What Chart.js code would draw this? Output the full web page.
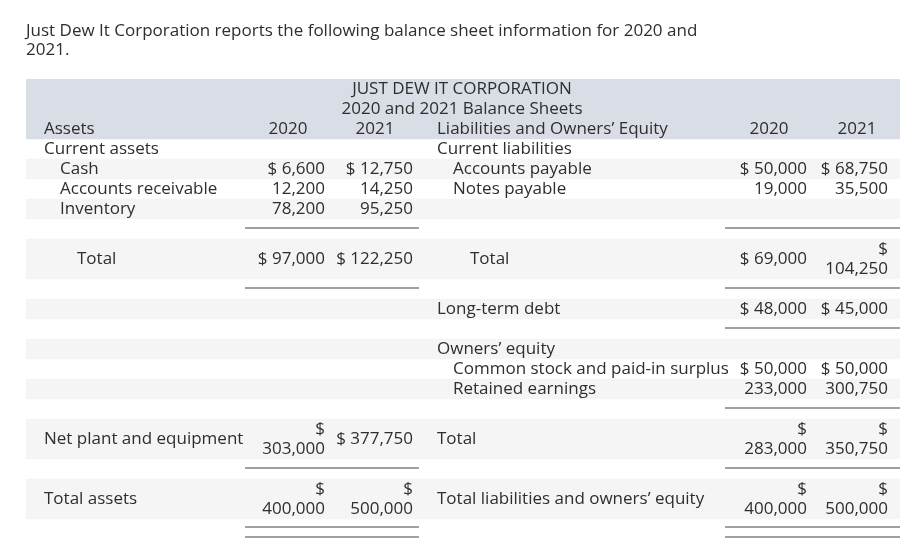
<!DOCTYPE html>
<html>
<head>
<meta charset="utf-8">
<script src="https://cdn.jsdelivr.net/npm/chart.js@4/dist/chart.umd.min.js"></script>
<style>
    html, body { margin: 0; padding: 0; background: #fff; }
</style>
</head>
<body>
<canvas id="sheetChart" width="913" height="557"></canvas>
<script>
// Balance sheet figures (read from the statement)
const years = ['2020', '2021'];
const currentAssetLabels = ['Cash', 'Accounts receivable', 'Inventory'];
const currentAssets2020 = [6600, 12200, 78200];
const currentAssets2021 = [12750, 14250, 95250];
const totalCurrentAssets = [97000, 122250];
const netPlant = [303000, 377750];
const totalAssets = [400000, 500000];

const currentLiabLabels = ['Accounts payable', 'Notes payable'];
const currentLiab2020 = [50000, 19000];
const currentLiab2021 = [68750, 35500];
const totalCurrentLiab = [69000, 104250];
const longTermDebt = [48000, 45000];
const equityLabels = ['Common stock and paid-in surplus', 'Retained earnings'];
const equity2020 = [50000, 233000];
const equity2021 = [50000, 300750];
const totalEquity = [283000, 350750];
const totalLiabEquity = [400000, 500000];

// Row bands of the table: header, shaded row or plain row
const bandKinds = ['head', 'head', 'head', '', 'row', '', 'row', '', 'row', 'row', '', 'row',
    '', 'row', '', 'row', '', 'row', 'row', '', 'row', 'row', ''];
const slots = bandKinds.map((k, i) => 'r' + i);

// Column anchors on the x scale
const col = {
    label: 18, indent: 34, total: 51, a20: 299, a21: 387, a20c: 262, a21c: 349,
    rLabel: 411, rIndent: 427, rTotal: 444, l20: 781, l21: 862, l20c: 743, l21c: 831,
    title: 436
};

const fontFamily = '"Open Sans", sans-serif';
const fontSize = 17;
const textColor = '#2e2e2e';

const fmt = v => v.toLocaleString('en-US');
const money = v => '$ ' + fmt(v);

// Build the text cells
const cells = [];
function text(slot, x, str, align) { cells.push({ slot, x, str, align: align || 'left' }); }
function value(slot, x, v, first) { text(slot, x, first ? money(v) : fmt(v), 'right'); }
function wrapped(slot, x, v) { text(slot, x, '$', 'right'); text(slot + 1, x, fmt(v), 'right'); }

text(0, col.title, 'JUST DEW IT CORPORATION', 'center');
text(1, col.title, '2020 and 2021 Balance Sheets', 'center');
text(2, col.label, 'Assets');
text(2, col.a20c, years[0], 'center');
text(2, col.a21c, years[1], 'center');
text(2, col.rLabel, 'Liabilities and Owners\u2019 Equity');
text(2, col.l20c, years[0], 'center');
text(2, col.l21c, years[1], 'center');

text(3, col.label, 'Current assets');
text(3, col.rLabel, 'Current liabilities');
currentAssetLabels.forEach((lab, i) => {
    text(4 + i, col.indent, lab);
    value(4 + i, col.a20, currentAssets2020[i], i === 0);
    value(4 + i, col.a21, currentAssets2021[i], i === 0);
});
currentLiabLabels.forEach((lab, i) => {
    text(4 + i, col.rIndent, lab);
    value(4 + i, col.l20, currentLiab2020[i], i === 0);
    value(4 + i, col.l21, currentLiab2021[i], i === 0);
});

text(8.5, col.total, 'Total');
value(8.5, col.a20, totalCurrentAssets[0], true);
value(8.5, col.a21, totalCurrentAssets[1], true);
text(8.5, col.rTotal, 'Total');
value(8.5, col.l20, totalCurrentLiab[0], true);
wrapped(8, col.l21, totalCurrentLiab[1]);

text(11, col.rLabel, 'Long-term debt');
value(11, col.l20, longTermDebt[0], true);
value(11, col.l21, longTermDebt[1], true);

text(13, col.rLabel, 'Owners\u2019 equity');
equityLabels.forEach((lab, i) => {
    text(14 + i, col.rIndent, lab);
    value(14 + i, col.l20, equity2020[i], i === 0);
    value(14 + i, col.l21, equity2021[i], i === 0);
});

text(17.5, col.label, 'Net plant and equipment');
wrapped(17, col.a20, netPlant[0]);
value(17.5, col.a21, netPlant[1], true);
text(17.5, col.rLabel, 'Total');
wrapped(17, col.l20, totalEquity[0]);
wrapped(17, col.l21, totalEquity[1]);

text(20.5, col.label, 'Total assets');
wrapped(20, col.a20, totalAssets[0]);
wrapped(20, col.a21, totalAssets[1]);
text(20.5, col.rLabel, 'Total liabilities and owners\u2019 equity');
wrapped(20, col.l20, totalLiabEquity[0]);
wrapped(20, col.l21, totalLiabEquity[1]);

// Rule lines under the figure columns
const leftRule = [219, 393];
const rightRule = [699, 874];
const rules = [
    { slot: 6.95, spans: [leftRule, rightRule] },
    { slot: 9.95, spans: [leftRule, rightRule] },
    { slot: 11.95, spans: [rightRule] },
    { slot: 15.95, spans: [rightRule] },
    { slot: 18.95, spans: [leftRule, rightRule] },
    { slot: 21.9, spans: [leftRule, rightRule] },
    { slot: 22.4, spans: [leftRule, rightRule] }
];

// Plugin that writes cell text and rules using the chart scales
const tablePlugin = {
    id: 'tableText',
    afterDatasetsDraw(chart) {
        const c = chart.ctx;
        const xs = chart.scales.x;
        const ys = chart.scales.y;
        c.save();
        c.strokeStyle = '#808080';
        c.lineWidth = 1.3;
        rules.forEach(r => {
            const y = ys.getPixelForValue(r.slot);
            r.spans.forEach(s => {
                c.beginPath();
                c.moveTo(xs.getPixelForValue(s[0]), y);
                c.lineTo(xs.getPixelForValue(s[1]), y);
                c.stroke();
            });
        });
        c.fillStyle = textColor;
        c.font = fontSize + 'px ' + fontFamily;
        c.textBaseline = 'middle';
        cells.forEach(cell => {
            c.textAlign = cell.align;
            c.fillText(cell.str, xs.getPixelForValue(cell.x), ys.getPixelForValue(cell.slot));
        });
        c.restore();
    }
};

const ctx = document.getElementById('sheetChart').getContext('2d');
const sheetChart = new Chart(ctx, {
    type: 'bar',
    data: {
        labels: slots,
        datasets: [{
            label: 'rows',
            data: bandKinds.map(k => k ? [0, 874] : null),
            backgroundColor: bandKinds.map(k => k === 'head' ? '#d9dde6' : '#f5f5f5'),
            borderWidth: 0,
            barPercentage: 1,
            categoryPercentage: 1
        }]
    },
    options: {
        indexAxis: 'y',
        responsive: false,
        animation: false,
        events: [],
        layout: { padding: { left: 26, right: 13, top: 0, bottom: 18 } },
        scales: {
            x: { type: 'linear', min: 0, max: 874, display: false },
            y: { type: 'category', display: false }
        },
        plugins: {
            legend: { display: false },
            tooltip: { enabled: false },
            title: {
                display: true,
                align: 'start',
                color: textColor,
                text: ['Just Dew It Corporation reports the following balance sheet information for 2020 and', '2021.'],
                font: { family: fontFamily, size: fontSize, weight: 'normal', lineHeight: '19px' },
                padding: { top: 22, bottom: 19 }
            }
        }
    },
    plugins: [tablePlugin]
});
</script>
</body>
</html>
